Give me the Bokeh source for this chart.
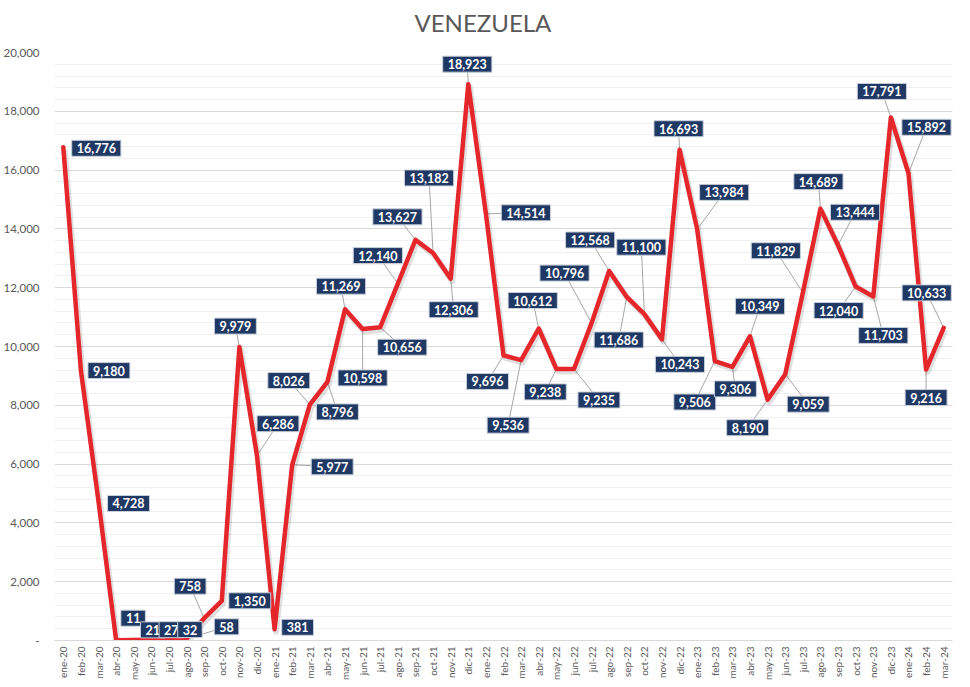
from bokeh.plotting import figure
from bokeh.models import (FactorRange, Range1d, SingleIntervalTicker,
                          CustomJSTickFormatter, Label, ColumnDataSource, Title)
from bokeh.embed import file_html
from bokeh.resources import INLINE
from math import pi

# ---------------- data ----------------
months = ["ene-20", "feb-20", "mar-20", "abr-20", "may-20", "jun-20", "jul-20", "ago-20",
          "sep-20", "oct-20", "nov-20", "dic-20",
          "ene-21", "feb-21", "mar-21", "abr-21", "may-21", "jun-21", "jul-21", "ago-21",
          "sep-21", "oct-21", "nov-21", "dic-21",
          "ene-22", "feb-22", "mar-22", "abr-22", "may-22", "jun-22", "jul-22", "ago-22",
          "sep-22", "oct-22", "nov-22", "dic-22",
          "ene-23", "feb-23", "mar-23", "abr-23", "may-23", "jun-23", "jul-23", "ago-23",
          "sep-23", "oct-23", "nov-23", "dic-23",
          "ene-24", "feb-24", "mar-24"]

values = [16776, 9180, 4728, 11, 21, 27, 32, 58, 758, 1350, 9979, 6286,
          381, 5977, 8026, 8796, 11269, 10598, 10656, 12140, 13627, 13182, 12306, 18923,
          14514, 9696, 9536, 10612, 9238, 9235, 10796, 12568, 11686, 11100, 10243, 16693,
          13984, 9506, 9306, 10349, 8190, 9059, 11829, 14689, 13444, 12040, 11703, 17791,
          15892, 9216, 10633]

y_ticks_interval = 2000
y_max = 20000

# ---------------- label placement (screen px, +dy = downwards) ----------------
label_dx = [33, 28, 30, 17, 19, 20, 21, 40, -14, 28, -4, 21,
            23, 40, -21, 10, -4, 0, 22, -20, -18, -4, 3, -1,
            40, -16, -13, -6, -11, 25, -27, -19, -8, -3, 18, -1,
            27, -20, 3, 10, -20, 23, -27, -2, 17, -17, 10, -9,
            18, 0, -17]
label_dy = [1, 0, 2, -22, -10, -10, -10, -12, -32, 0, -21, -32,
            -2, 2, -24, 30, -23, 49, 20, -28, -23, -75, 31, -20,
            -1, 26, 65, -28, 23, 31, -50, -31, 43, -67, 25, -21,
            -37, 41, 22, -30, 28, 30, -42, -27, -33, 24, 39, -26,
            -46, 28, -35]
has_leader = [False, False, False, False, False, False, False, True, True, False, True, True,
              False, True, True, True, True, True, True, True, True, True, True, True,
              True, True, True, True, True, True, True, True, True, True, True, True,
              True, True, True, True, True, True, True, True, True, True, True, True,
              True, True, True]

# ---------------- layout ----------------
FW, FH = 898, 588
cat_px = FW / len(months)
y_per_px = y_max / FH

LINE_RED = "#e5262b"
NAVY = "#1f3864"
GREY_TXT = "#595959"

x_range = FactorRange(factors=months, range_padding=0)
p = figure(frame_width=FW, frame_height=FH,
           x_range=x_range,
           y_range=Range1d(0, y_max),
           output_backend="svg", toolbar_location=None,
           min_border_left=47, min_border_right=5,
           min_border_top=10, min_border_bottom=10,
           background_fill_color="white", border_fill_color="white",
           outline_line_color=None)

# title
p.title.text = "VENEZUELA"
p.title.align = "left"
p.title.offset = 360
p.title.text_font = "Lato"
p.title.text_font_size = "24px"
p.title.text_font_style = "normal"
p.title.text_color = GREY_TXT
# small empty panel between the title and the plot area
p.add_layout(Title(text=" ", text_font_size="8px", standoff=0), "above")

# y axis
p.yaxis.ticker = SingleIntervalTicker(interval=y_ticks_interval, num_minor_ticks=5)
p.yaxis.formatter = CustomJSTickFormatter(
    code="return tick == 0 ? '-' : Math.round(tick).toLocaleString('en-US');")
p.yaxis.axis_line_color = None
p.yaxis.major_tick_line_color = None
p.yaxis.minor_tick_line_color = None
p.yaxis.major_tick_in = 0
p.yaxis.major_tick_out = 0
p.yaxis.major_label_text_font = "Lato"
p.yaxis.major_label_text_font_size = "11.5px"
p.yaxis.major_label_text_color = GREY_TXT
p.yaxis.major_label_standoff = 11

# x axis
p.xaxis.major_label_orientation = pi / 2
p.xaxis.axis_line_color = "#d9d9d9"
p.xaxis.major_tick_line_color = None
p.xaxis.minor_tick_line_color = None
p.xaxis.major_tick_in = 0
p.xaxis.major_tick_out = 0
p.xaxis.major_label_standoff = 6
p.xaxis.major_label_text_font = "Lato"
p.xaxis.major_label_text_font_size = "10px"
p.xaxis.major_label_text_color = GREY_TXT

# grids
p.xgrid.grid_line_color = None
p.ygrid.grid_line_color = "#d9d9d9"
p.ygrid.grid_line_width = 1
p.ygrid.minor_grid_line_color = "#f0f0f0"
p.ygrid.minor_grid_line_width = 1

# leader lines (from point to label centre; the label box covers the rest)
lead = [i for i, f in enumerate(has_leader) if f]
leader_src = ColumnDataSource(dict(
    x0=[months[i] for i in lead],
    y0=[values[i] for i in lead],
    x1=[(months[i], label_dx[i] / cat_px) for i in lead],
    y1=[values[i] - label_dy[i] * y_per_px for i in lead],
))
p.segment(x0="x0", y0="y0", x1="x1", y1="y1", source=leader_src,
          line_color="#a6a6a6", line_width=1)

# soft shadow of the series line
shadow_src = ColumnDataSource(dict(
    x=[(m, 1.5 / cat_px) for m in months],
    y=[v - 2.5 * y_per_px for v in values],
))
p.line(x="x", y="y", source=shadow_src, line_color="#000000", line_alpha=0.12,
       line_width=6, line_join="round")

# series line
src = ColumnDataSource(dict(x=months, y=values))
p.line(x="x", y="y", source=src, line_color=LINE_RED, line_width=4.5,
       line_join="round", line_cap="round")

# data labels (x given as the factor's synthetic centre on the categorical scale)
for m, v, dx, dy in zip(months, values, label_dx, label_dy):
    p.add_layout(Label(
        x=months.index(m) + 0.5, y=v, x_offset=dx, y_offset=-dy,
        text=f"{v:,}",
        text_align="center", text_baseline="middle",
        text_font="Lato", text_font_size="12.5px", text_font_style="bold",
        text_color="white",
        background_fill_color=NAVY, background_fill_alpha=1.0,
        border_line_color="#c9d0db", border_line_width=1,
        padding=dict(left=5, right=5, top=3, bottom=3),
    ))

open("out.html", "w").write(file_html(p, INLINE))
